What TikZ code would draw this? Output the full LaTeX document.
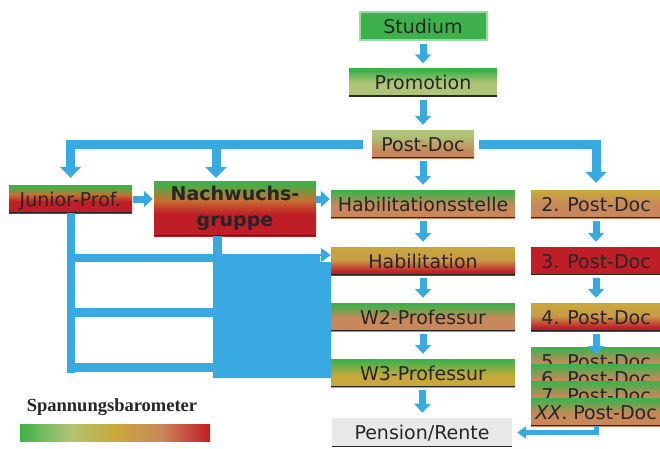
\documentclass[tikz,border=0pt]{standalone}
\usepackage{fontspec}
\setmainfont{DejaVu Sans}
\newfontfamily\legendfont{Liberation Serif}
\usetikzlibrary{arrows.meta}

\definecolor{barGreen}{RGB}{62,178,74}
\definecolor{barOlive}{RGB}{174,196,118}
\definecolor{barGold}{RGB}{200,168,58}
\definecolor{barTan}{RGB}{200,136,90}
\definecolor{barRed}{RGB}{192,30,38}
\definecolor{arrowBlue}{RGB}{56,170,225}

% 25bp = bottom of the box, 75bp = top
\pgfdeclareverticalshading{greenOlive}{100bp}{color(0bp)=(barOlive); color(25bp)=(barOlive); color(50bp)=(barOlive); color(71bp)=(barGreen); color(100bp)=(barGreen)}
\pgfdeclareverticalshading{oliveTan}{100bp}{color(0bp)=(barTan); color(25bp)=(barTan); color(38bp)=(barTan); color(66bp)=(barOlive); color(100bp)=(barOlive)}
\pgfdeclareverticalshading{greenRed}{100bp}{color(0bp)=(barRed); color(25bp)=(barRed); color(45bp)=(barRed); color(58bp)=(barGold!60!barRed); color(73bp)=(barGreen); color(100bp)=(barGreen)}
\pgfdeclareverticalshading{greenTan}{100bp}{color(0bp)=(barTan); color(25bp)=(barTan); color(48bp)=(barTan); color(73bp)=(barGreen); color(100bp)=(barGreen)}
\pgfdeclareverticalshading{goldTan}{100bp}{color(0bp)=(barTan); color(25bp)=(barTan); color(50bp)=(barTan); color(73bp)=(barGold); color(100bp)=(barGold)}
\pgfdeclareverticalshading{goldRed}{100bp}{color(0bp)=(barRed); color(25bp)=(barRed); color(31bp)=(barRed); color(52bp)=(barGold!55!barTan); color(73bp)=(barGold); color(100bp)=(barGold)}
\pgfdeclareverticalshading{greenGold}{100bp}{color(0bp)=(barGold); color(25bp)=(barGold); color(45bp)=(barGold); color(73bp)=(barGreen); color(100bp)=(barGreen)}
\pgfdeclarehorizontalshading{barometer}{100bp}{color(0bp)=(barGreen); color(25bp)=(barGreen); color(38bp)=(barOlive); color(50bp)=(barGold); color(62bp)=(barTan); color(75bp)=(barRed); color(100bp)=(barRed)}

\tikzset{
	box/.style={rectangle, inner sep=0pt, minimum height=28pt, text=black!85, font=\fontsize{19}{22}\selectfont},
	cell/.style={box, text height=14pt, text depth=0pt},
	mainbox/.style={cell, minimum width=184pt},
	pdbox/.style={cell, minimum width=130pt},
	botline/.style={black!85, line width=1.5pt},
	blk/.style={arrowBlue, line width=7pt, -{Triangle[width=16pt,length=9pt]}, shorten <=3pt, shorten >=5pt},
	bigblk/.style={arrowBlue, line width=9pt, -{Triangle[width=21pt,length=11pt]}},
	bar/.style={arrowBlue, line width=8.5pt}
}

\begin{document}
\begin{tikzpicture}[x=1pt,y=-1pt]
	\useasboundingbox (0,0) rectangle (660,448);

	% main column
	\node[cell, minimum width=127pt, fill=barGreen, draw=barGreen!50!white, line width=2pt] (studium) at (423,26) {Studium};
	\node[cell, minimum width=148pt, shade, shading=greenOlive] (promo) at (423,82.5) {Promotion};
	\node[cell, minimum width=102pt, shade, shading=oliveTan] (postdoc) at (423,144) {Post-Doc};
	\node[mainbox, shade, shading=greenTan] (habstelle) at (423,204) {Habilitationsstelle};
	\node[mainbox, shade, shading=goldRed] (habil) at (423,261) {Habilitation};
	\node[mainbox, shade, shading=greenTan] (w2) at (423,317) {W2-Professur};
	\node[mainbox, shade, shading=greenGold] (w3) at (423,373) {W3-Professur};
	\node[cell, minimum width=180pt, minimum height=29pt, fill=black!9] (pension) at (422,432.5) {Pension/Rente};

	% left side
	\node[cell, minimum width=123pt, shade, shading=greenRed] (junior) at (70.5,199) {Junior-Prof.};
	\node[box, minimum width=162pt, minimum height=55pt, shade, shading=greenRed, align=center, font=\bfseries\fontsize{19}{26.5}\selectfont] (nachwuchs) at (235,208.5) {Nachwuchs-\\gruppe};

	% right column
	\node[pdbox, shade, shading=goldTan] (pd2) at (596,204) {2. Post-Doc};
	\node[pdbox, fill=barRed] (pd3) at (596,261) {3. Post-Doc};
	\node[pdbox, shade, shading=goldRed] (pd4) at (596,317) {4. Post-Doc};
	\foreach \i/\y in {5/361,6/378,7/395}
		\node[pdbox, shade, shading=greenTan] (pd\i) at (596,\y) {\i. Post-Doc};
	\node[pdbox, shade, shading=greenTan] (pdxx) at (596,412) {\textit{XX}. Post-Doc};

	\foreach \n in {promo,postdoc,junior,nachwuchs,habstelle,habil,w2,w3,pd2,pd3,pd4,pdxx,pension}
		\draw[botline] ([yshift=0.75pt]\n.south west) -- ([yshift=0.75pt]\n.south east);

	% arrows
	\draw[blk] (studium) -- (promo);
	\draw[blk] (promo) -- (postdoc);
	\draw[blk] (postdoc) -- (habstelle);
	\draw[blk] (habstelle) -- (habil);
	\draw[blk] (habil) -- (w2);
	\draw[blk] (w2) -- (w3);
	\draw[blk] (w3) -- (pension);
	\draw[blk] (pd2) -- (pd3);
	\draw[blk] (pd3) -- (pd4);
	\draw[blk, shorten >=-8pt] (pd4) -- (pd5);
	\draw[blk, shorten <=1pt, shorten >=1pt] (junior.east) -- (junior.east -| nachwuchs.west);
	\draw[blk, shorten <=0pt, shorten >=1pt] (nachwuchs.east |- junior) -- (habstelle.west |- junior);
	\draw[arrowBlue, line width=5pt, -{Triangle[width=12pt,length=9pt]}, shorten >=5pt] (pdxx.south) |- (pension.east);

	\draw[bigblk, shorten <=9pt, shorten >=7pt] (postdoc.west) -| (junior.north);
	\coordinate (nwtop) at (216,181);
	\draw[bigblk, shorten >=3pt] (nwtop |- postdoc) -- (nwtop);
	\draw[bigblk, shorten <=5pt, shorten >=7pt] (postdoc.east) -| (pd2.north);

	% Junior-Prof. / Nachwuchsgruppe into the main column
	\coordinate (lbot) at (71,373);
	\draw[bar] (junior.south -| lbot) -- (lbot);
	\foreach \y in {258,312.5,367.5}
		\draw[bar] (75,\y) -- (214,\y);
	\draw[bar, line width=9pt] (nachwuchs.south -| 217.5,0) -- (217.5,256);
	\fill[arrowBlue] (213,255) -- (320,255) -- (320,262) -- (331,262) -- (331,378) -- (213,378) -- cycle;
	\draw[arrowBlue, line width=1.5pt, -{Triangle[width=14pt,length=10pt]}] (222,255) -- (habil.west |- 0,255);

	% legend
	\node[font=\legendfont\bfseries\fontsize{18.5}{20}\selectfont, text=black!85] (legend) at (112,407.5) {Spannungsbarometer};
	\node[minimum width=190pt, minimum height=17pt, inner sep=0pt, shade, shading=barometer] (scale) at (115,432.5) {};
\end{tikzpicture}
\end{document}
